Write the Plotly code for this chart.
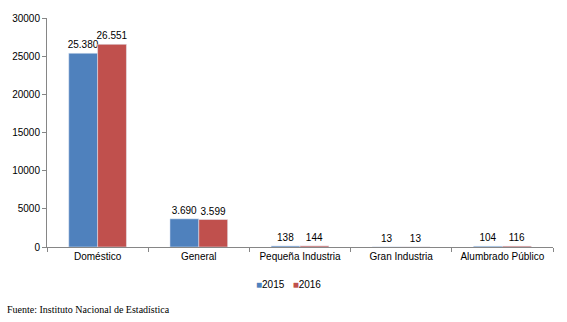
import plotly.graph_objects as go

categories = ["Doméstico", "General", "Pequeña Industria", "Gran Industria", "Alumbrado Público"]
values_2015 = [25380, 3690, 138, 13, 104]
values_2016 = [26551, 3599, 144, 13, 116]
series_names = ["2015", "2016"]
colors = ["#4F81BD", "#C0504D"]
y_ticks = [0, 5000, 10000, 15000, 20000, 25000, 30000]

fig = go.Figure()
for name, vals, col in zip(series_names, [values_2015, values_2016], colors):
    fig.add_trace(go.Bar(
        x=categories, y=vals, name=name, marker_color=col,
        texttemplate="%{y:,}", textposition="outside", constraintext="none",
        textfont=dict(family="Liberation Sans, Arial", size=10, color="#000000"),
        cliponaxis=False, showlegend=False,
    ))

L, R, T, B = 46, 14, 15, 75
H = 322 - T - B
W = 567 - L - R
legend_text = "   ".join(
    f"<span style='color:{c}'>■</span>{n}" for n, c in zip(series_names, colors)
)
fig.update_layout(
    width=567, height=322,
    margin=dict(l=L, r=R, t=T, b=B),
    paper_bgcolor="white", plot_bgcolor="white",
    separators=",.",
    barmode="group", bargap=0.43, bargroupgap=0,
    font=dict(family="Liberation Sans, Arial", size=10, color="#000000"),
    xaxis=dict(showline=True, linecolor="#868686", linewidth=1,
               ticks="outside", tickson="boundaries", ticklen=4, tickcolor="#868686",
               showgrid=False, tickfont=dict(size=10)),
    yaxis=dict(range=[0, 30000], tickvals=y_ticks, tickformat="d", exponentformat="none",
               showline=True, linecolor="#868686", linewidth=1,
               ticks="outside", ticklen=4, tickcolor="#868686",
               showgrid=False, zeroline=False, tickfont=dict(size=10)),
    annotations=[
        dict(text=legend_text, xref="paper", yref="paper",
             x=(288 - L) / W, xanchor="center", y=-(285 - 247) / H, yanchor="middle",
             showarrow=False, font=dict(family="Liberation Sans, Arial", size=10, color="#000000")),
        dict(text="Fuente: Instituto Nacional de Estadística",
             xref="paper", yref="paper", x=-(L - 4) / W, xanchor="left",
             y=-(310 - 247) / H, yanchor="middle", showarrow=False,
             font=dict(family="Liberation Serif, Times New Roman", size=10, color="#000000")),
    ],
)

fig.write_html("out.html")
